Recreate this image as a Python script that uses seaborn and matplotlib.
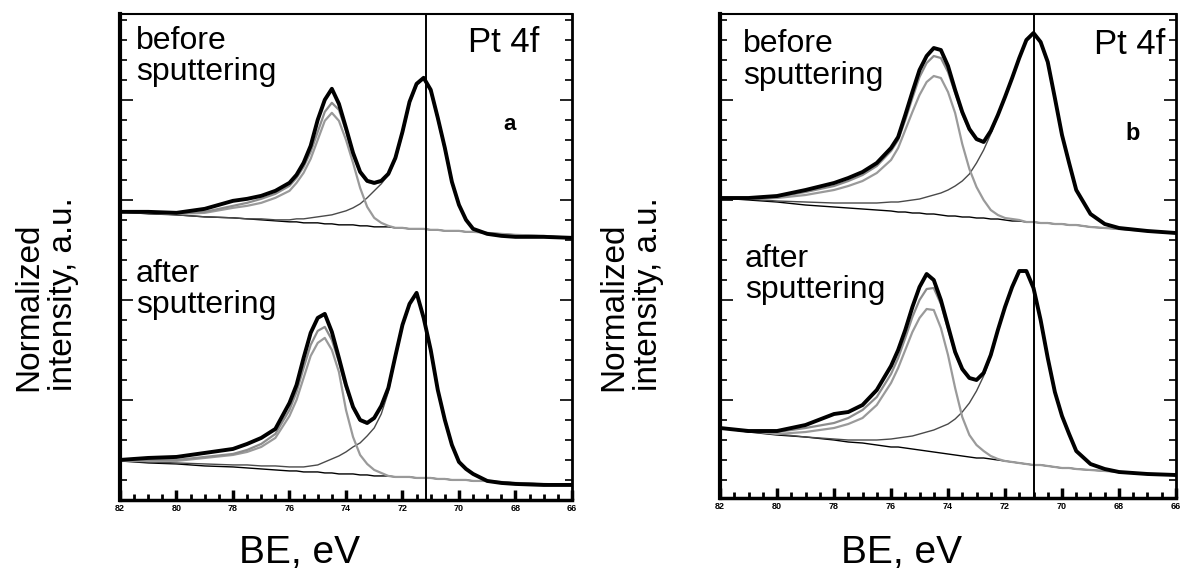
import numpy as np
import pandas as pd
import matplotlib
matplotlib.use('Agg')
import matplotlib.pyplot as plt
import seaborn as sns
from matplotlib.ticker import MultipleLocator

# binding energy grid (eV), values at these points
be = [82, 81, 80, 79, 78, 77.5, 77, 76.5, 76, 75.75, 75.5, 75.25, 75, 74.75, 74.5,
      74.25, 74, 73.75, 73.5, 73.25, 73, 72.75, 72.5, 72.25, 72, 71.75, 71.5, 71.25,
      71, 70.75, 70.5, 70.25, 70, 69.75, 69.5, 69, 68.5, 68, 67, 66]

# panel a - before sputtering
a_before_exp = [288, 288, 287, 291, 299, 301, 304, 309, 317, 325, 337, 354, 380, 400, 411,
                396, 372, 347, 328, 319, 317, 319, 326, 342, 368, 398, 416, 422, 410, 382,
                352, 318, 295, 280, 271, 266, 264, 263, 263, 262]
a_before_fit = [288, 288, 286, 288, 294, 297, 301, 306, 314, 322, 333, 348, 368, 388, 397,
                390, 369, 345, 327, 318, 316, 318, 325, 341, 367, 397, 415, 421, 409, 381,
                351, 318, 295, 280, 271, 266, 264, 263, 263, 262]
a_before_p52 = [288, 287, 286, 287, 292, 294, 297, 302, 309, 317, 327, 341, 360, 379, 387,
                379, 360, 337, 312, 293, 282, 277, 274, 272, 272, 271, 271, 271, 270, 270,
                269, 269, 269, 268, 268, 267, 266, 265, 264, 262]
a_before_p72 = [288, 287, 285, 283, 282, 281, 281, 280, 280, 281, 281, 282, 283, 284, 285,
                287, 289, 292, 296, 302, 309, 316, 325, 341, 367, 397, 415, 421, 409, 381,
                351, 318, 295, 280, 271, 266, 264, 263, 263, 262]
a_before_bg = [288, 286, 285, 283, 282, 281, 280, 279, 278, 278, 277, 277, 277, 276, 276,
               275, 275, 275, 274, 274, 273, 273, 273, 272, 272, 271, 271, 271, 270, 270,
               269, 269, 269, 268, 268, 267, 266, 265, 264, 262]

# panel a - after sputtering
a_after_exp = [40, 42, 43, 47, 51, 56, 62, 71, 97, 115, 142, 167, 182, 186, 168,
               142, 115, 93, 80, 77, 82, 94, 112, 144, 175, 196, 207, 182, 150, 110,
               80, 55, 38, 31, 26, 19, 17, 16, 15, 15]
a_after_fit = [39, 40, 40, 43, 46, 50, 56, 66, 90, 108, 132, 155, 169, 173, 160,
               138, 112, 92, 79, 76, 81, 94, 112, 144, 175, 196, 207, 182, 150, 110,
               80, 55, 38, 31, 26, 19, 17, 16, 15, 15]
a_after_p52 = [39, 39, 39, 42, 45, 48, 53, 62, 84, 100, 122, 144, 157, 162, 150,
               128, 90, 63, 45, 36, 30, 27, 24, 23, 23, 23, 22, 22, 22, 21,
               21, 20, 20, 20, 19, 19, 18, 17, 16, 15]
a_after_p72 = [39, 38, 37, 36, 35, 35, 34, 34, 33, 33, 33, 34, 35, 38, 41,
               44, 48, 53, 57, 64, 72, 86, 108, 143, 174, 196, 206, 182, 150, 110,
               80, 55, 38, 31, 26, 19, 18, 17, 16, 15]
a_after_bg = [39, 37, 36, 34, 33, 32, 31, 30, 29, 29, 28, 28, 28, 27, 27,
              26, 26, 26, 25, 25, 24, 24, 24, 23, 23, 23, 22, 22, 22, 21,
              21, 20, 20, 20, 19, 19, 18, 17, 16, 15]

# panel b - before sputtering
b_before_exp = [302, 302, 304, 310, 317, 322, 328, 337, 352, 363, 385, 408, 430, 444, 452,
                450, 434, 410, 388, 371, 361, 358, 369, 385, 403, 422, 442, 460, 467, 458,
                438, 402, 365, 337, 310, 286, 276, 272, 269, 267]
b_before_fit = [302, 302, 303, 308, 314, 319, 325, 334, 349, 360, 380, 402, 423, 437, 444,
                442, 428, 407, 386, 370, 360, 358, 369, 385, 403, 422, 442, 460, 467, 458,
                438, 402, 365, 337, 310, 286, 276, 272, 269, 267]
b_before_p52 = [302, 301, 302, 305, 310, 314, 319, 327, 340, 352, 370, 388, 405, 418, 424,
                422, 408, 387, 356, 331, 313, 300, 290, 285, 282, 281, 280, 278, 278, 277,
                277, 276, 276, 275, 275, 273, 272, 271, 269, 267]
b_before_p72 = [302, 301, 299, 298, 297, 297, 297, 297, 298, 298, 299, 300, 301, 303, 305,
                307, 310, 314, 319, 326, 337, 350, 366, 384, 403, 422, 442, 460, 467, 458,
                438, 402, 365, 337, 310, 286, 276, 272, 269, 267]
b_before_bg = [302, 300, 298, 295, 293, 292, 291, 290, 289, 288, 288, 287, 287, 286, 286,
               285, 284, 284, 283, 283, 282, 282, 281, 281, 280, 279, 279, 278, 278, 277,
               277, 276, 276, 275, 275, 273, 272, 271, 269, 267]

# panel b - after sputtering
b_after_exp = [72, 69, 69, 75, 86, 88, 95, 110, 134, 150, 170, 193, 213, 226, 220,
               200, 174, 148, 131, 122, 120, 127, 145, 170, 193, 213, 229, 229, 212, 180,
               142, 108, 84, 66, 49, 36, 31, 28, 26, 25]
b_after_fit = [72, 69, 68, 72, 77, 82, 90, 103, 126, 142, 162, 183, 200, 211, 212,
               196, 171, 147, 130, 122, 120, 127, 145, 170, 193, 213, 229, 229, 212, 180,
               142, 108, 84, 66, 49, 36, 31, 28, 26, 25]
b_after_p52 = [72, 69, 66, 68, 72, 76, 82, 95, 117, 132, 150, 168, 182, 191, 190,
               172, 145, 112, 83, 65, 55, 49, 44, 41, 39, 38, 37, 36, 35, 35,
               34, 33, 32, 32, 31, 30, 29, 28, 26, 25]
b_after_p72 = [72, 69, 66, 63, 61, 60, 60, 60, 61, 62, 63, 64, 66, 68, 70,
               73, 76, 81, 88, 97, 109, 124, 143, 169, 193, 213, 229, 229, 212, 180,
               142, 108, 84, 66, 49, 36, 31, 28, 26, 25]
b_after_bg = [72, 68, 65, 63, 60, 58, 57, 55, 53, 53, 52, 51, 50, 49, 48,
              47, 46, 45, 44, 43, 42, 42, 41, 40, 39, 38, 37, 36, 35, 35,
              34, 33, 32, 32, 31, 30, 29, 28, 26, 25]

# vertical marker line position in each panel (eV)
marker_be = {'a': 71.15, 'b': 71.0}
x_ticks = [82, 80, 78, 76, 74, 72, 70, 68, 66]

sns.set_style('white')
plt.rcParams['font.family'] = ['Liberation Sans', 'DejaVu Sans']
plt.rcParams['text.color'] = 'black'
plt.rcParams['xtick.color'] = 'black'
plt.rcParams['ytick.color'] = 'black'

# curve name -> (colour, linewidth), drawn in this order
curve_style = {
    'bg': ('black', 1.0),
    'p72': ('#4a4a4a', 1.0),
    'p52': ('#9a9a9a', 1.6),
    'fit': ('#8c8c8c', 1.6),
    'exp': ('black', 2.8),
}

panels = {
    'a': {'before': dict(exp=a_before_exp, fit=a_before_fit, p52=a_before_p52, p72=a_before_p72, bg=a_before_bg),
          'after': dict(exp=a_after_exp, fit=a_after_fit, p52=a_after_p52, p72=a_after_p72, bg=a_after_bg)},
    'b': {'before': dict(exp=b_before_exp, fit=b_before_fit, p52=b_before_p52, p72=b_before_p72, bg=b_before_bg),
          'after': dict(exp=b_after_exp, fit=b_after_fit, p52=b_after_p52, p72=b_after_p72, bg=b_after_bg)},
}

rows = []
for panel, states in panels.items():
    for state, curves in states.items():
        for name, vals in curves.items():
            for e, v in zip(be, vals):
                rows.append((panel, state, name, e, v))
df = pd.DataFrame(rows, columns=['panel', 'state', 'curve', 'be', 'intensity'])

fig = plt.figure(figsize=(11.8, 5.74), dpi=100)
ax_a = fig.add_axes([0.1017, 0.129, 0.383, 0.847])
ax_b = fig.add_axes([0.6102, 0.1324, 0.3864, 0.8432])
axes = {'a': ax_a, 'b': ax_b}

for panel, ax in axes.items():
    sub = df[df.panel == panel]
    for state in ['before', 'after']:
        for name, (col, lw) in curve_style.items():
            d = sub[(sub.state == state) & (sub.curve == name)]
            sns.lineplot(data=d, x='be', y='intensity', ax=ax, color=col, linewidth=lw,
                         estimator=None, sort=False, legend=False)
    ax.axvline(marker_be[panel], color='black', lw=1.4)
    ax.set_xlim(82, 66)
    ax.set_xticks(x_ticks)
    ax.set_xticklabels([str(t) for t in x_ticks], fontsize=6.5, fontweight='bold')
    ax.xaxis.set_minor_locator(MultipleLocator(0.5))
    ax.yaxis.set_major_locator(MultipleLocator(100))
    ax.yaxis.set_minor_locator(MultipleLocator(20))
    ax.set_yticklabels([])
    ax.tick_params(axis='both', which='both', direction='in', top=False, right=True,
                   left=True, bottom=True, pad=3)
    ax.tick_params(axis='x', which='major', length=7, width=2.5)
    ax.tick_params(axis='x', which='minor', length=4, width=2.0)
    ax.tick_params(axis='y', which='major', length=9, width=1.2)
    ax.tick_params(axis='y', which='minor', length=5, width=1.2)
    ax.set_xlabel('')
    ax.set_ylabel('')
    for side, w in [('left', 3.0), ('bottom', 2.5), ('top', 1.5), ('right', 2.0)]:
        ax.spines[side].set_linewidth(w)
        ax.spines[side].set_color('black')

ax_a.set_ylim(0, 486)
ax_b.set_ylim(2, 486)

ax_a.text(0.035, 0.975, 'before\nsputtering', transform=ax_a.transAxes, fontsize=23,
          linespacing=1.05, va='top')
ax_a.text(0.035, 0.495, 'after\nsputtering', transform=ax_a.transAxes, fontsize=23,
          linespacing=1.05, va='top')
ax_b.text(0.05, 0.968, 'before\nsputtering', transform=ax_b.transAxes, fontsize=23,
          linespacing=1.05, va='top')
ax_b.text(0.055, 0.525, 'after\nsputtering', transform=ax_b.transAxes, fontsize=23,
          linespacing=1.05, va='top')
ax_a.text(0.929, 0.975, 'Pt 4f', transform=ax_a.transAxes, fontsize=25, ha='right', va='top')
ax_b.text(0.976, 0.972, 'Pt 4f', transform=ax_b.transAxes, fontsize=25, ha='right', va='top')
ax_a.text(0.863, 0.772, 'a', transform=ax_a.transAxes, fontsize=16, fontweight='bold',
          ha='center', va='center')
ax_b.text(0.904, 0.754, 'b', transform=ax_b.transAxes, fontsize=17, fontweight='bold',
          ha='center', va='center')

for xc in [0.039, 0.535]:
    fig.text(xc, 0.488, 'Normalized\nintensity, a.u.', rotation=90, fontsize=24,
             ha='center', va='center', multialignment='left', linespacing=1.15)
for xc in [0.254, 0.764]:
    fig.text(xc, 0.037, 'BE, eV', fontsize=28, ha='center', va='center')

fig.savefig('out.png', dpi=100)
